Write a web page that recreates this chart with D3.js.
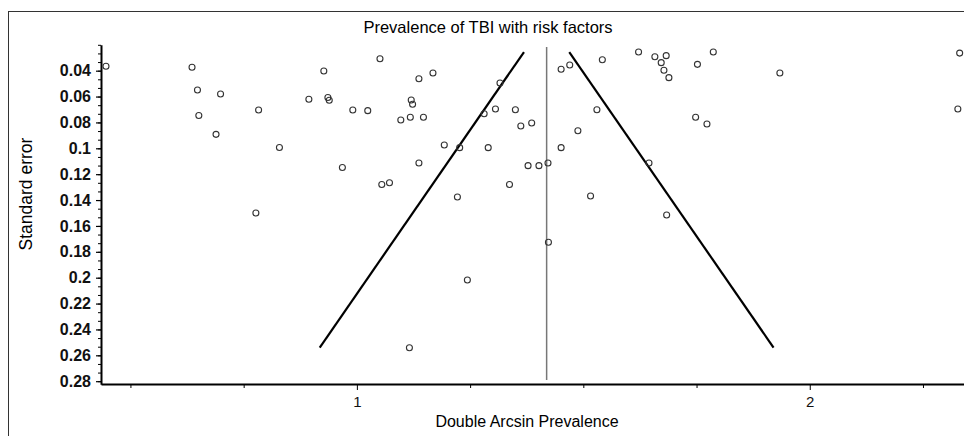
<!DOCTYPE html>
<html>
<head>
<meta charset="utf-8">
<script src="https://cdn.jsdelivr.net/npm/d3@7"></script>
<style>
  body { margin: 0; background: #fff; }
  svg { display: block; font-family: "Liberation Sans", Arial, sans-serif; }
</style>
</head>
<body>
<svg id="chart" width="964" height="436"></svg>
<script>
// studies: double arcsin prevalence and standard error
var studyX = [0.446, 0.636, 0.648, 0.699, 0.651, 0.689, 0.783, 0.829, 0.894, 0.777,
  0.927, 0.936, 0.939, 0.991, 1.024, 0.968, 1.051, 1.055, 1.072, 1.097,
  1.118, 1.120, 1.123, 1.137, 1.137, 1.147, 1.168, 1.193, 1.227, 1.222,
  1.281, 1.290, 1.306, 1.316, 1.337, 1.350, 1.362, 1.378, 1.386, 1.402,
  1.422, 1.451, 1.470, 1.451, 1.488, 1.516, 1.530, 1.423, 1.244, 1.542,
  1.622, 1.658, 1.683, 1.672, 1.678, 1.689, 1.752, 1.787, 1.934, 2.331,
  2.327, 1.748, 1.773, 1.645, 1.684, 1.116];
var studySE = [0.0366, 0.0374, 0.0549, 0.0580, 0.0747, 0.0892, 0.0704, 0.0994, 0.0621, 0.150,
  0.0403, 0.0607, 0.0629, 0.0704, 0.0709, 0.1148, 0.0308, 0.128, 0.1266, 0.0781,
  0.0760, 0.0627, 0.0660, 0.0462, 0.1114, 0.0760, 0.0418, 0.0975, 0.0995, 0.1376,
  0.0733, 0.0995, 0.0696, 0.0495, 0.128, 0.0702, 0.0828, 0.1134, 0.0804, 0.1134,
  0.1114, 0.0389, 0.0356, 0.0995, 0.0864, 0.1369, 0.0702, 0.1726, 0.2018, 0.0315,
  0.0256, 0.0292, 0.0284, 0.0338, 0.0397, 0.0454, 0.0351, 0.0256, 0.0418, 0.0264,
  0.0696, 0.0760, 0.0812, 0.1114, 0.1515, 0.2541];

// pooled estimate and the pseudo confidence limits (funnel)
var pooled = 1.419;
var funnelLeft = [[1.369, 0.0256], [0.918, 0.254]];
var funnelRight = [[1.469, 0.0256], [1.920, 0.254]];

var yMajor = [0.04, 0.06, 0.08, 0.1, 0.12, 0.14, 0.16, 0.18, 0.2, 0.22, 0.24, 0.26, 0.28];
var yMinor = d3.range(3, 43).map(function(k) { return k * 0.02 / 3; });
var xMajor = [1, 2];
var xMinor = [0.5, 0.75, 1.25, 1.5, 1.75, 2.25];

var svg = d3.select("#chart");

// buitenrand
svg.append("rect")
  .attr("x", 8.5).attr("y", 11.5)
  .attr("width", 980).attr("height", 440)
  .attr("fill", "none").attr("stroke", "#333").attr("stroke-width", 1);

var x = d3.scaleLinear().domain([0.435, 2.345]).range([101, 966]);
var y = d3.scaleLinear().domain([0.02, 0.2824]).range([44.8, 384.3]);

svg.append("text")
  .attr("x", 488).attr("y", 33)
  .attr("text-anchor", "middle")
  .style("font-size", "16.5px")
  .text("Prevalence of TBI with risk factors");

// y as
var yAxisMinor = svg.append("g").attr("transform", "translate(101,0)")
  .call(d3.axisLeft(y).tickValues(yMinor).tickSize(3).tickSizeOuter(0).tickFormat(""));
yAxisMinor.select(".domain").remove();

var yAxis = svg.append("g").attr("transform", "translate(101,0)")
  .call(d3.axisLeft(y).tickValues(yMajor).tickSize(5).tickSizeOuter(0)
    .tickFormat(function(d) { return String(+d.toFixed(2)); }));
yAxis.select(".domain").attr("stroke-width", 2);
yAxis.selectAll(".tick line").attr("stroke-width", 1.2);
yAxis.selectAll("text")
  .attr("x", -10)
  .style("font-size", "16px")
  .style("font-family", "Liberation Sans, Arial, sans-serif")
  .style("font-weight", "bold")
  .attr("fill", "#111");

svg.append("text")
  .attr("transform", "translate(32,194) rotate(-90)")
  .attr("text-anchor", "middle")
  .style("font-size", "17.5px")
  .text("Standard error");

// x as
var xAxisMinor = svg.append("g").attr("transform", "translate(0,384)")
  .call(d3.axisBottom(x).tickValues(xMinor).tickSize(4).tickSizeOuter(0).tickFormat(""));
xAxisMinor.select(".domain").remove();

var xAxis = svg.append("g").attr("transform", "translate(0,384)")
  .call(d3.axisBottom(x).tickValues(xMajor).tickSize(6).tickSizeOuter(0).tickFormat(d3.format("d")));
xAxis.select(".domain").attr("stroke-width", 2);
xAxis.selectAll("text")
  .attr("y", 12)
  .style("font-size", "15px")
  .style("font-family", "Liberation Sans, Arial, sans-serif")
  .attr("fill", "#111");

svg.append("text")
  .attr("x", 527).attr("y", 427)
  .attr("text-anchor", "middle")
  .style("font-size", "16px")
  .text("Double Arcsin Prevalence");

// lijn van de gepoolde schatting
svg.append("line")
  .attr("x1", x(pooled)).attr("x2", x(pooled))
  .attr("y1", 47).attr("y2", 380)
  .attr("stroke", "#777").attr("stroke-width", 1.5);

var line = d3.line()
  .x(function(d) { return x(d[0]); })
  .y(function(d) { return y(d[1]); });

[funnelLeft, funnelRight].forEach(function(f) {
  svg.append("path")
    .attr("d", line(f))
    .attr("fill", "none")
    .attr("stroke", "#000")
    .attr("stroke-width", 2.2);
});

svg.selectAll("circle.study")
  .data(studyX)
  .enter()
  .append("circle")
  .attr("class", "study")
  .attr("cx", function(d) { return x(d); })
  .attr("cy", function(d, i) { return y(studySE[i]); })
  .attr("r", 3)
  .attr("fill", "none")
  .attr("stroke", "#333")
  .attr("stroke-width", 1.1);
</script>
</body>
</html>
